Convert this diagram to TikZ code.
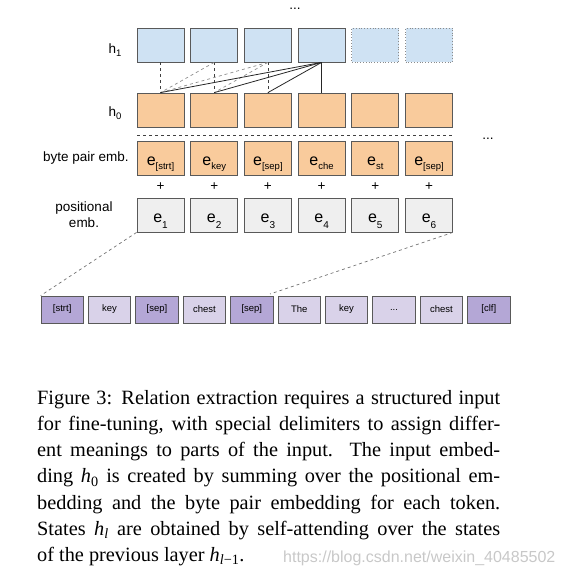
\documentclass[tikz,border=0pt]{standalone}
\usepackage{fontspec}
\setmainfont{Liberation Serif}
\setsansfont{Liberation Sans}
\definecolor{hblue}{HTML}{CFE2F3}
\definecolor{horange}{HTML}{F9CB9C}
\definecolor{pgray}{HTML}{EFEFEF}
\definecolor{pdark}{HTML}{B4A7D6}
\definecolor{plight}{HTML}{D9D2E9}
\definecolor{bline}{HTML}{595959}
\definecolor{wmark}{HTML}{C8C8C8}
\newcommand\mysub[1]{\raisebox{-0.5ex}{\fontsize{9.5}{9.5}\selectfont #1}}
\newcommand\mysubd[1]{\raisebox{-0.8ex}{\fontsize{10}{10}\selectfont #1}}
\begin{document}
\begin{tikzpicture}[x=1pt,y=-1pt,
  box/.style={draw=bline, line width=0.8pt, minimum width=47pt, minimum height=34pt, inner sep=0pt, font=\sffamily\fontsize{14}{14}\selectfont},
  ebox/.style={box, font=\sffamily\fontsize{16}{16}\selectfont, text height=14pt, text depth=0pt},
  hone/.style={box, fill=hblue},
  hghost/.style={box, fill=hblue, draw=bline!70, dotted},
  hzero/.style={box, fill=horange},
  bpbox/.style={ebox, fill=horange},
  pebox/.style={ebox, fill=pgray},
  tok/.style={draw=bline, line width=0.8pt, minimum width=42.4pt, minimum height=27pt, inner sep=0pt, font=\sffamily\fontsize{9.5}{10}\selectfont},
  tkd/.style={tok, fill=pdark},
  tkl/.style={tok, fill=plight},
  lbl/.style={font=\sffamily\fontsize{13.5}{16}\selectfont, align=center, inner sep=0pt},
  attd/.style={draw=black!45, dashed, line width=0.7pt},
  attv/.style={draw=black!75, dashed, line width=0.7pt},
  atts/.style={draw=black!85, line width=0.8pt},
  guide/.style={draw=black!55, dashed, line width=0.7pt}
]
\useasboundingbox (0,0) rectangle (572,576);

% top dots
\node[lbl] (topdots) at (295,9) {...};
\node[lbl] (rightdots) at (488,139) {...};

% row labels
\node[lbl] (lh1) at (115,50) {h\mysub{1}};
\node[lbl] (lh0) at (115,113) {h\mysub{0}};
\node[lbl] (lbp) at (86,158) {byte pair emb.};
\node[lbl] (lpe) at (84,215) {positional\\emb.};

% h1 row
\foreach \i/\cx in {1/160.5,2/214.2,3/267.9,4/321.6}
  \node[hone] (h1-\i) at (\cx,45) {};
\foreach \i/\cx in {5/375.3,6/429}
  \node[hghost] (h1-\i) at (\cx,45) {};

% h0 row
\foreach \i/\cx in {1/160.5,2/214.2,3/267.9,4/321.6,5/375.3,6/429}
  \node[hzero] (h0-\i) at (\cx,110) {};

% separator
\coordinate (sepL) at (137,135);
\coordinate (sepR) at (453,135);
\draw[attv] (sepL) -- (sepR);

% byte pair row
\foreach \i/\cx/\t in {1/160.5/{[strt]},2/214.2/{key},3/267.9/{[sep]},4/321.6/{che},5/375.3/{st},6/429/{[sep]}}
  \node[bpbox] (bp-\i) at (\cx,158.5) {e\mysub{\t}};

% plus signs
\foreach \i/\cx in {1/160.5,2/214.2,3/267.9,4/321.6,5/375.3,6/429}
  \node[lbl] (plus-\i) at (\cx,187) {+};

% positional row
\foreach \i/\cx in {1/160.5,2/214.2,3/267.9,4/321.6,5/375.3,6/429}
  \node[pebox] (pe-\i) at (\cx,215) {e\mysubd{\i}};

% attention connectors
\draw[attv] (h1-1.south) -- (h0-1.north);
\draw[attv] (h1-2.south) -- (h0-2.north);
\draw[attv] (h1-3.south) -- (h0-3.north);
\draw[attd] (h1-2.south) -- (h0-1.north);
\draw[attd] (h1-3.south) -- (h0-1.north);
\draw[attd] (h1-3.south) -- (h0-2.north);
\draw[atts] (h1-4.south) -- (h0-1.north);
\draw[atts] (h1-4.south) -- (h0-2.north);
\draw[atts] (h1-4.south) -- (h0-3.north);
\draw[atts] (h1-4.south) -- (h0-4.north);

% token row
\foreach \i/\s/\t in {1/tkd/{[strt]},2/tkl/{key},3/tkd/{[sep]},4/tkl/{chest},5/tkd/{[sep]},6/tkl/{The},7/tkl/{key},8/tkl/{...},9/tkl/{chest},10/tkd/{[clf]}}
  \node[\s] (tk-\i) at ({41+21.2+47.4*(\i-1)},309.5) {\t};

% guide lines
\coordinate (gR) at (270,294);
\draw[guide] (pe-1.south west) -- (tk-1.north west);
\draw[guide] (pe-6.south east) -- (gR);

% caption
\node[anchor=base west, inner sep=0pt] (cap) at (37,404) {\parbox[t]{463pt}{\fontsize{20.3}{26.3}\selectfont\hyphenpenalty=10000\exhyphenpenalty=10000\noindent
Figure 3: Relation extraction requires a structured input\linebreak
for fine-tuning, with special delimiters to assign differ-\linebreak
ent meanings to parts of the input.\ \ The input embed-\linebreak
ding \textit{h}\textsubscript{0} is created by summing over the positional em-\linebreak
bedding and the byte pair embedding for each token.\linebreak
States \textit{h\textsubscript{l}} are obtained by self-attending over the states\linebreak
of the previous layer \textit{h}\textsubscript{\textit{l}−1}.\par}};

\node[anchor=base west, inner sep=0pt, text=wmark, font=\sffamily\fontsize{16}{16}\selectfont] (wm) at (283,562) {https://blog.csdn.net/weixin\_40485502};
\end{tikzpicture}
\end{document}
